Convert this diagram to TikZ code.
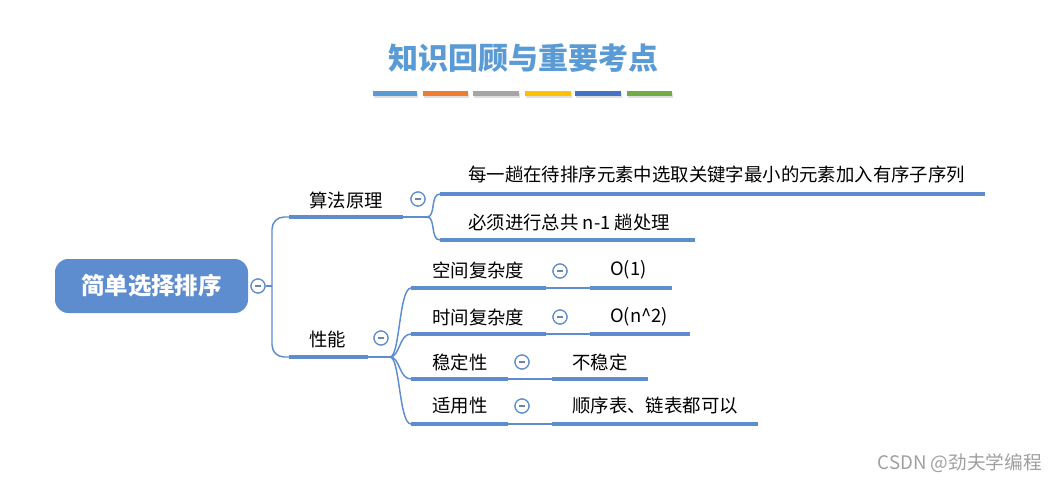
\documentclass[tikz,border=0pt]{standalone}
\usepackage{fontspec}
\setmainfont{Noto Sans CJK SC}

\definecolor{mapblue}{RGB}{93,140,207}
\definecolor{titleblue}{RGB}{91,155,213}
\definecolor{barA}{RGB}{91,155,213}
\definecolor{barB}{RGB}{237,125,49}
\definecolor{barC}{RGB}{165,165,165}
\definecolor{barD}{RGB}{255,192,0}
\definecolor{barE}{RGB}{68,114,196}
\definecolor{barF}{RGB}{112,173,71}

\tikzset{
  lead/.style={line width=3pt,mapblue},
  link/.style={line width=1.1pt,mapblue},
  fold/.style={circle,draw=mapblue,line width=0.9pt,fill=white,minimum size=10.5pt,inner sep=0pt,
    path picture={\draw[mapblue!60!gray,line width=0.8pt]
      ([xshift=-2.6pt]path picture bounding box.center) -- ([xshift=2.6pt]path picture bounding box.center);}},
  leaf/.style={anchor=west,inner sep=0pt,font=\fontsize{13.8}{16}\selectfont},
  colbar/.style={line width=3.2pt},
}

\begin{document}
\begin{tikzpicture}[x=0.75pt,y=-0.75pt]
  \useasboundingbox (0,0) rectangle (1060,481);
  \pgfmathsetmacro\hubx{272}
  \pgfmathsetmacro\subx{411}

% title and colour bars
  \node[text=titleblue,font=\bfseries\fontsize{22.5}{26}\selectfont] (title) at (523,58) {知识回顾与重要考点};
  \foreach \c/\xa/\xb in {barA/373/417,barB/423/468,barC/473/519,barD/525/571,barE/575/621,barF/627/672}{
    \draw[colbar,gray!25] (\xa+1,95.5) -- (\xb+1,95.5);
    \draw[colbar,\c] (\xa,93.5) coordinate (\c-l) -- (\xb,93.5) coordinate (\c-r);
  }

% root
  \node[fill=mapblue,rounded corners=10pt,minimum width=144.75pt,minimum height=40.5pt,
        text=white,font=\bfseries\fontsize{17.6}{20}\selectfont] (root) at (151.5,286) {简单选择排序};
  \node[fold] (rootfold) at (258,286) {};
  \coordinate (hub) at (\hubx,286);

% algorithm branch
  \node[leaf] (alg) at (309,200) {算法原理};
  \node[fold] (algfold) at (418,199) {};
  \coordinate (alg-l) at (289,217);
  \coordinate (alg-r) at (403,217);
  \coordinate (alg-hub) at (427,217);
  \node[leaf] (step1) at (468,174) {每一趟在待排序元素中选取关键字最小的元素加入有序子序列};
  \node[leaf] (step2) at (468,223) {必须进行总共 n-1 趟处理};
  \coordinate (step1-l) at (440,194);
  \coordinate (step1-r) at (985,194);
  \coordinate (step2-l) at (440,240);
  \coordinate (step2-r) at (695,240);

% performance branch
  \node[leaf] (perf) at (309,339) {性能};
  \node[fold] (perffold) at (381,338) {};
  \coordinate (perf-l) at (289,357);
  \coordinate (perf-r) at (368,357);
  \coordinate (perf-hub) at (390,357);

  \node[leaf] (space) at (432,270) {空间复杂度};
  \node[fold] (spacefold) at (560,271) {};
  \node[leaf] (spaceval) at (610,270) {O(1)};
  \node[leaf] (time) at (432,317) {时间复杂度};
  \node[fold] (timefold) at (560,317) {};
  \node[leaf] (timeval) at (610,317) {O(n\^{}2)};
  \node[leaf] (stab) at (432,362) {稳定性};
  \node[fold] (stabfold) at (522,362) {};
  \node[leaf] (stabval) at (572,362) {不稳定};
  \node[leaf] (use) at (432,406) {适用性};
  \node[fold] (usefold) at (522,406) {};
  \node[leaf] (useval) at (572,406) {顺序表、链表都可以};

  \coordinate (space-l) at (\subx,288);  \coordinate (space-r) at (546,288);
  \coordinate (spaceval-l) at (590,288); \coordinate (spaceval-r) at (672,288);
  \coordinate (time-l) at (\subx,334);   \coordinate (time-r) at (546,334);
  \coordinate (timeval-l) at (590,334);  \coordinate (timeval-r) at (690,334);
  \coordinate (stab-l) at (\subx,379);   \coordinate (stab-r) at (508,379);
  \coordinate (stabval-l) at (552,379);  \coordinate (stabval-r) at (648,379);
  \coordinate (use-l) at (\subx,424);    \coordinate (use-r) at (508,424);
  \coordinate (useval-l) at (552,424);   \coordinate (useval-r) at (758,424);

% connectors
  \draw[link] (rootfold) -- (hub);
  \draw[link,rounded corners=9pt] (alg-l) -| (hub) |- (perf-l);
  \draw[link] (alg-r) -- (alg-hub);
  \draw[link] (perf-r) -- (perf-hub);
  \foreach \t in {step1,step2}
    \draw[link] (alg-hub) .. controls +(9,0) and +(-10,0) .. (\t-l);
  \foreach \t in {space,time,stab,use}
    \draw[link] (perf-hub) .. controls +(10,0) and +(-12,0) .. (\t-l);
  \foreach \t in {space,time,stab,use}
    \draw[link] (\t-r) -- (\t val-l);

% underlines
  \foreach \t in {alg,perf,step1,step2,space,spaceval,time,timeval,stab,stabval,use,useval}
    \draw[lead] (\t-l) -- (\t-r);

% folds on top again
  \foreach \f/\x/\y in {rootfold/258/286,algfold/418/199,perffold/381/338,spacefold/560/271,timefold/560/317,stabfold/522/362,usefold/522/406}
    \node[fold] at (\x,\y) {};

  \node[anchor=west,text=gray!75,font=\fontsize{14}{16}\selectfont] (mark) at (873,463) {CSDN @劲夫学编程};
\end{tikzpicture}
\end{document}
